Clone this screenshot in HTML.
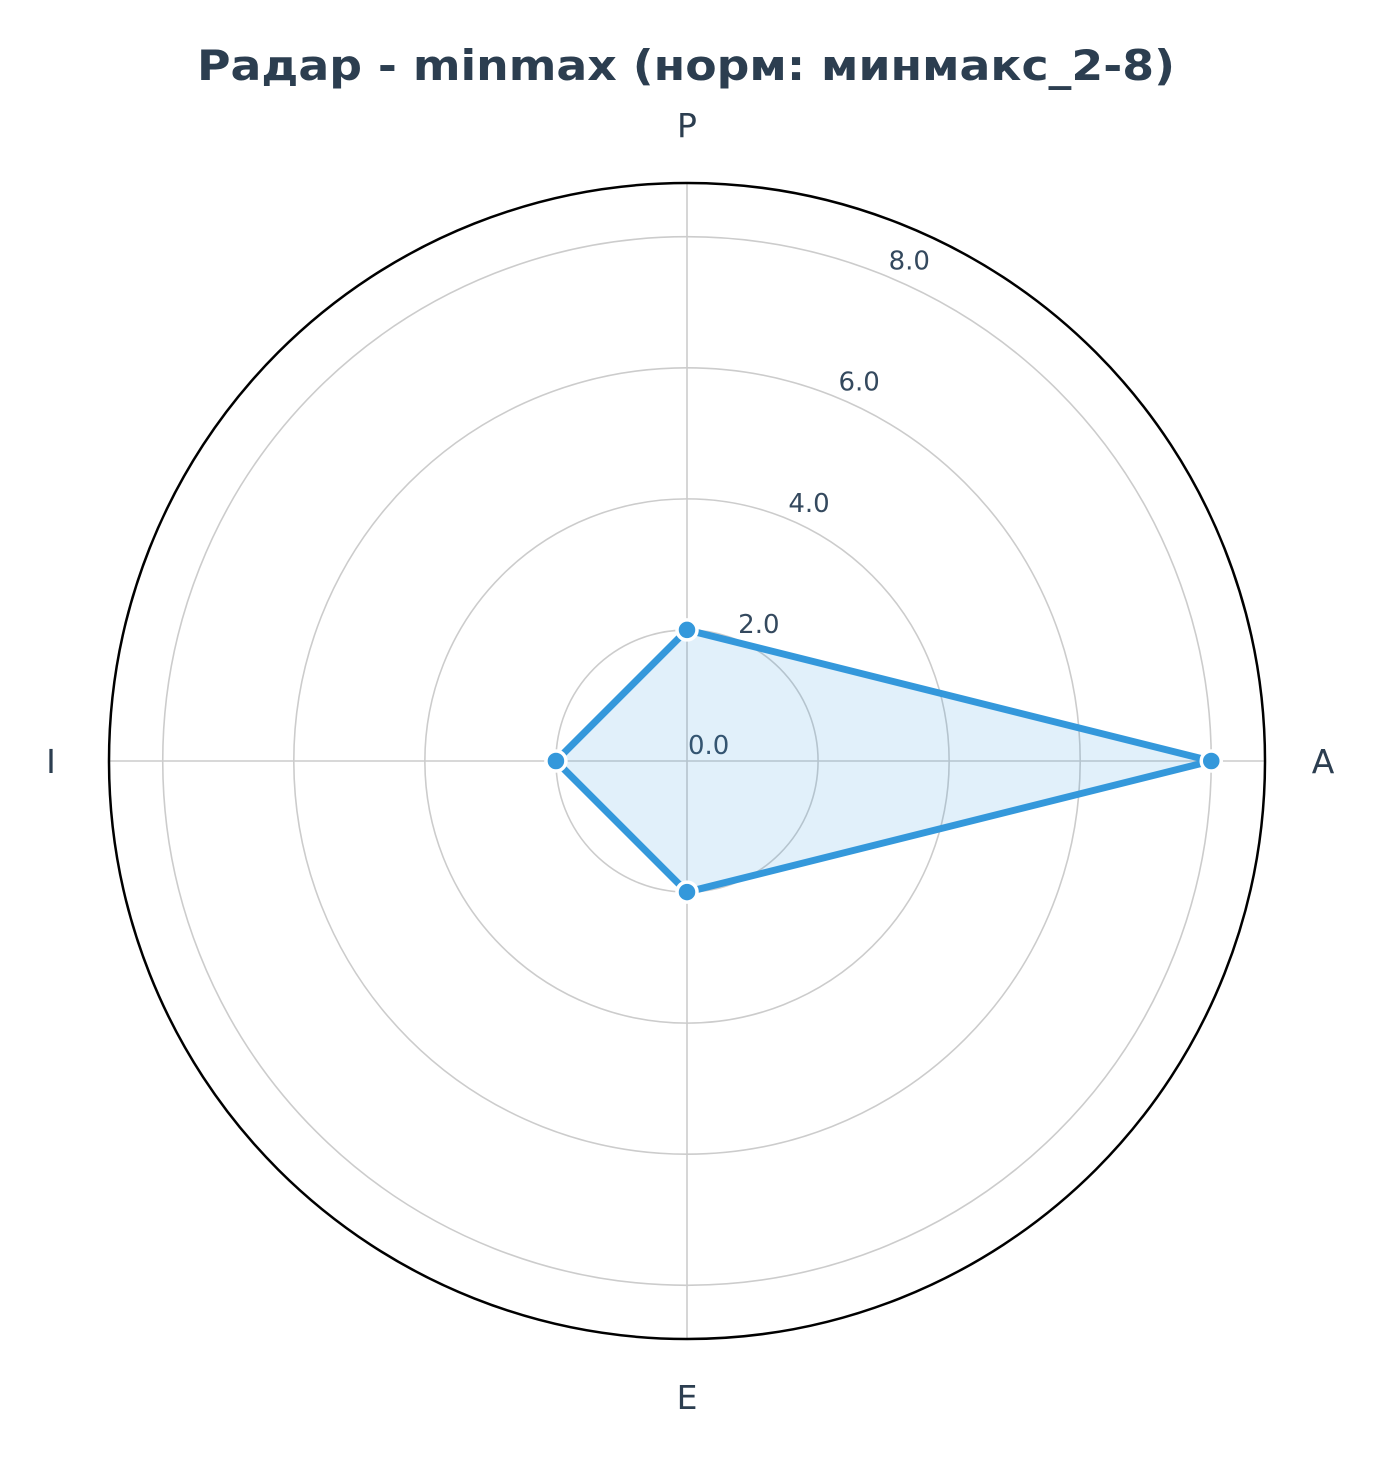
<!DOCTYPE html>
<html><head><meta charset="utf-8"><style>
body{margin:0;background:#fff}
svg{display:block;font-family:"DejaVu Sans","Liberation Sans",sans-serif}
</style></head><body>
<svg id="chart" width="1382" height="1463" viewBox="0 0 1382 1463">
<text x="686" y="80" text-anchor="middle" font-size="42" font-weight="bold" fill="#2c3e50" textLength="978" lengthAdjust="spacingAndGlyphs">Радар - minmax (норм: минмакс_2-8)</text>
<g id="grid"></g>
<g id="series"></g>
</svg>
<script>
const categories = ["A","P","I","E"];
const values = [8.0, 2.0, 2.0, 2.0];
const ticks = [0, 2, 4, 6, 8];
const tickLabels = ["0.0","2.0","4.0","6.0","8.0"];
const rMax = 8.82;

const cx = 687, cy = 761, R = 578;
const NS = "http://www.w3.org/2000/svg";
const grid = document.getElementById('grid');
const ser = document.getElementById('series');
function rs(v){ return v / rMax * R; }
function ang(i){ return i * 2 * Math.PI / categories.length; }
function pt(i, v){ const a = ang(i); return [cx + rs(v) * Math.cos(a), cy - rs(v) * Math.sin(a)]; }
function mk(tag, attrs, parent){ const e = document.createElementNS(NS, tag); for (const k in attrs) e.setAttribute(k, attrs[k]); parent.appendChild(e); return e; }

ticks.forEach((t, i) => {
  if (t > 0) {
    const c = mk('circle', {cx: cx, cy: cy, r: rs(t), fill: 'none', stroke: '#cccccc', 'stroke-width': 1.6}, grid);
    
    
  }
});
categories.forEach((c, i) => {
  const [x, y] = pt(i, rMax);
  const l = mk('line', {x1: cx, y1: cy, x2: x, y2: y, stroke: '#cccccc', 'stroke-width': 1.6}, grid);
  
  
  const a = ang(i);
  const lx = cx + (R + 58) * Math.cos(a), ly = cy - (R + 58) * Math.sin(a);
  const t = mk('text', {x: lx, y: ly + 12, 'text-anchor': 'middle', 'font-size': 33, fill: '#2c3e50'}, grid);
  t.textContent = c;
  
  
});
const outer = mk('circle', {cx: cx, cy: cy, r: R, fill: 'none', stroke: '#000', 'stroke-width': 2.5}, grid);


const la = 67.5 * Math.PI / 180;
ticks.forEach((t, i) => {
  const r = rs(t);
  const x = cx + r * Math.cos(la), y = cy - r * Math.sin(la);
  const tx = mk('text', {x: x + 1, y: y - 7, 'font-size': 26, fill: '#34495e'}, grid);
  tx.textContent = tickLabels[i];
  
  
});
const pts = values.map((v, i) => pt(i, v));
const d = pts.map(p => p.join(',')).join(' ');
const poly = mk('polygon', {points: d, fill: 'rgba(52,152,219,0.15)', stroke: '#3498db', 'stroke-width': 7, 'stroke-linejoin': 'round'}, ser);


pts.forEach((p, i) => {
  const m = mk('circle', {cx: p[0], cy: p[1], r: 10, fill: '#3498db', stroke: '#fff', 'stroke-width': 3.5}, ser);
  
  
});
</script>
</body></html>
